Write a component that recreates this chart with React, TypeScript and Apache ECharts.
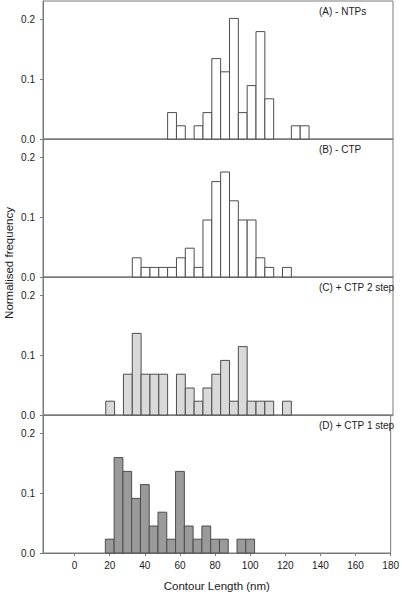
import React, { useEffect, useRef } from "react";
import * as echarts from "echarts";

// Histogram data (bin centres in nm, normalised frequency)
const BIN_WIDTH = 5;
const xTicks = [0, 20, 40, 60, 80, 100, 120, 140, 160, 180];
const yTicks = [0, 0.1, 0.2];

const panelLabels = ["(A) - NTPs", "(B) - CTP", "(C) + CTP 2 step", "(D) + CTP 1 step"];

const aCenters = [55, 60, 70, 75, 80, 85, 90, 95, 100, 105, 110, 125, 130];
const aValues = [0.044, 0.022, 0.022, 0.044, 0.134, 0.112, 0.201, 0.044, 0.089, 0.179, 0.067, 0.022, 0.022];

const bCenters = [35, 40, 45, 50, 55, 60, 65, 70, 75, 80, 85, 90, 95, 100, 105, 110, 120];
const bValues = [0.032, 0.016, 0.016, 0.016, 0.016, 0.032, 0.048, 0.016, 0.095, 0.159, 0.175, 0.127, 0.095, 0.095, 0.032, 0.016, 0.016];

const cCenters = [20, 30, 35, 40, 45, 50, 60, 65, 70, 75, 80, 85, 90, 95, 100, 105, 110, 120];
const cValues = [0.023, 0.068, 0.136, 0.068, 0.068, 0.068, 0.068, 0.045, 0.023, 0.045, 0.068, 0.091, 0.023, 0.114, 0.023, 0.023, 0.023, 0.023];

const dCenters = [20, 25, 30, 35, 40, 45, 50, 55, 60, 65, 70, 75, 80, 85, 95, 100];
const dValues = [0.023, 0.159, 0.136, 0.091, 0.114, 0.045, 0.068, 0.023, 0.136, 0.045, 0.023, 0.045, 0.023, 0.023, 0.023, 0.023];

const panels = [
  { centers: aCenters, values: aValues, fill: "#ffffff" },
  { centers: bCenters, values: bValues, fill: "#ffffff" },
  { centers: cCenters, values: cValues, fill: "#d9d9d9" },
  { centers: dCenters, values: dValues, fill: "#9a9a9a" },
];

const FONT = "'Liberation Sans', Arial, sans-serif";
const AXIS_COLOR = "#7a7a7a";
const BAR_STROKE = "#4d4d4d";

export default function App() {
  const ref = useRef<HTMLDivElement>(null);

  useEffect(() => {
    if (!ref.current) return;
    const chart = echarts.init(ref.current, null, { renderer: "svg" });

    const left = 43;
    const width = 350;
    const top0 = 1;
    const h = 138;

    const grids = panels.map((_, i) => ({
      left,
      width,
      top: top0 + h * i,
      height: h,
      show: true,
      borderColor: AXIS_COLOR,
      borderWidth: 1,
      backgroundColor: "transparent",
    }));

    const xAxes = panels.map((_, i) => {
      const isLast = i === panels.length - 1;
      return {
        type: "value",
        gridIndex: i,
        min: -18,
        max: 180,
        axisLine: { show: true, onZero: false, lineStyle: { color: AXIS_COLOR, width: 1 } },
        axisTick: {
          show: isLast,
          inside: false,
          length: 3,
          customValues: xTicks,
          lineStyle: { color: AXIS_COLOR },
        },
        axisLabel: {
          show: isLast,
          customValues: xTicks,
          margin: 7,
          fontSize: 10,
          fontFamily: FONT,
          color: "#1a1a1a",
        },
        splitLine: { show: false },
        name: isLast ? "Contour Length (nm)" : "",
        nameLocation: "middle",
        nameGap: 27,
        nameTextStyle: { fontSize: 11.5, fontFamily: FONT, color: "#1a1a1a" },
      };
    });

    const yAxes = panels.map((_, i) => ({
      type: "value",
      gridIndex: i,
      min: 0,
      max: 0.23,
      axisLine: { show: true, onZero: false, lineStyle: { color: AXIS_COLOR, width: 1 } },
      axisTick: {
        show: true,
        inside: false,
        length: 3,
        customValues: yTicks,
        lineStyle: { color: AXIS_COLOR },
      },
      axisLabel: {
        customValues: yTicks,
        margin: 8,
        fontSize: 10,
        fontFamily: FONT,
        color: "#1a1a1a",
        formatter: (v: number) => v.toFixed(1),
      },
      splitLine: { show: false },
    }));

    const series = panels.map((p, i) => ({
      type: "custom",
      xAxisIndex: i,
      yAxisIndex: i,
      encode: { x: 0, y: 1 },
      data: p.centers.map((c, k) => [c, p.values[k]]),
      renderItem: (_params: any, api: any) => {
        const c = api.value(0);
        const v = api.value(1);
        const p0 = api.coord([c - BIN_WIDTH / 2, v]);
        const p1 = api.coord([c + BIN_WIDTH / 2, 0]);
        return {
          type: "rect",
          shape: { x: p0[0], y: p0[1], width: p1[0] - p0[0], height: p1[1] - p0[1] },
          style: { fill: p.fill, stroke: BAR_STROKE, lineWidth: 1 },
        };
      },
    }));

    const graphic: any[] = panelLabels.map((t, i) => ({
      type: "text",
      x: 319,
      y: top0 + h * i + 10,
      style: {
        text: t,
        fontSize: 10,
        fontFamily: FONT,
        fill: "#1a1a1a",
        textAlign: "left",
        textVerticalAlign: "middle",
      },
    }));
    graphic.push({
      type: "text",
      x: 9,
      y: 263,
      rotation: Math.PI / 2,
      style: {
        text: "Normalised frequency",
        fontSize: 11.5,
        fontFamily: FONT,
        fill: "#1a1a1a",
        textAlign: "center",
        textVerticalAlign: "middle",
      },
    });

    chart.setOption({
      animation: false,
      backgroundColor: "#ffffff",
      grid: grids,
      xAxis: xAxes,
      yAxis: yAxes,
      series,
      graphic,
    } as any);

    return () => chart.dispose();
  }, []);

  return (
    <div
      ref={ref}
      style={{ position: "absolute", left: 0, top: 0, width: 402, height: 594 }}
    />
  );
}
